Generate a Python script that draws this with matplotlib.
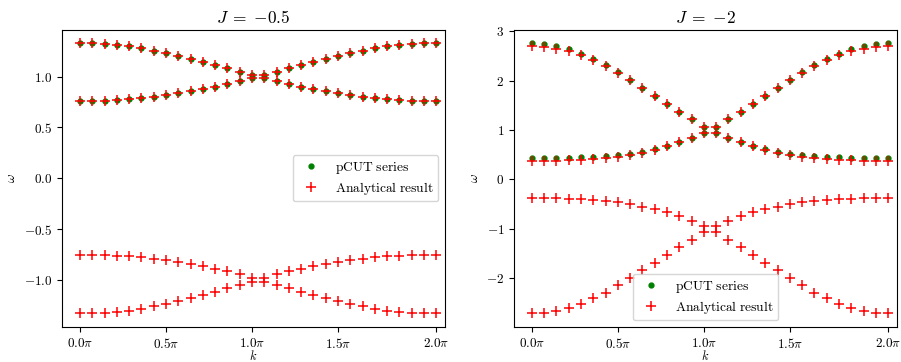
import numpy as np
import matplotlib
matplotlib.use('Agg')
import matplotlib.pyplot as plt
from matplotlib.ticker import FuncFormatter

plt.rcParams['mathtext.fontset'] = 'cm'
plt.rcParams['font.family'] = 'serif'
plt.rcParams['font.size'] = 9.5

# momentum grid, 30 points from 0 to 2 pi
k = np.linspace(0, 2 * np.pi, 30)
k_tick_idx = [0, 7, 14, 21, 29]
k_tick_labels = [r'$0.0\pi$', r'$0.5\pi$', r'$1.0\pi$', r'$1.5\pi$', r'$2.0\pi$']

# J = -0.5
pcut_a_up = [1.330, 1.330, 1.324, 1.314, 1.301, 1.281, 1.255, 1.232, 1.206, 1.176,
             1.144, 1.114, 1.082, 1.049, 1.016, 1.016, 1.049, 1.082, 1.114, 1.144,
             1.176, 1.206, 1.232, 1.255, 1.281, 1.301, 1.314, 1.324, 1.330, 1.330]
pcut_a_lo = [0.758, 0.758, 0.761, 0.765, 0.775, 0.788, 0.801, 0.817, 0.837, 0.856,
             0.876, 0.902, 0.928, 0.958, 0.984, 0.984, 0.958, 0.928, 0.902, 0.876,
             0.856, 0.837, 0.817, 0.801, 0.788, 0.775, 0.765, 0.761, 0.758, 0.758]
ana_a_up = pcut_a_up
ana_a_lo = pcut_a_lo
ana_a_nup = [-0.755, -0.755, -0.758, -0.761, -0.768, -0.778, -0.790, -0.806, -0.824, -0.845,
             -0.866, -0.890, -0.914, -0.945, -0.984, -0.984, -0.945, -0.914, -0.890, -0.866,
             -0.845, -0.824, -0.806, -0.790, -0.778, -0.768, -0.761, -0.758, -0.755, -0.755]
ana_a_nlo = [-1.330, -1.330, -1.324, -1.314, -1.301, -1.282, -1.258, -1.232, -1.206, -1.176,
             -1.145, -1.114, -1.082, -1.049, -1.016, -1.016, -1.049, -1.082, -1.114, -1.145,
             -1.176, -1.206, -1.232, -1.258, -1.282, -1.301, -1.314, -1.324, -1.330, -1.330]

# J = -2
pcut_b_up = [2.764, 2.744, 2.711, 2.637, 2.543, 2.435, 2.321, 2.173, 2.018, 1.857,
             1.689, 1.527, 1.366, 1.218, 1.070, 1.070, 1.218, 1.366, 1.527, 1.689,
             1.857, 2.018, 2.173, 2.321, 2.435, 2.543, 2.637, 2.711, 2.744, 2.764]
pcut_b_lo = [0.444, 0.444, 0.444, 0.444, 0.451, 0.458, 0.471, 0.492, 0.518, 0.558,
             0.612, 0.680, 0.760, 0.841, 0.949, 0.949, 0.841, 0.760, 0.680, 0.612,
             0.558, 0.518, 0.492, 0.471, 0.458, 0.451, 0.444, 0.444, 0.444, 0.444]
ana_b_up = [2.704, 2.690, 2.650, 2.603, 2.522, 2.421, 2.307, 2.159, 2.011, 1.850,
            1.682, 1.520, 1.366, 1.218, 1.070, 1.070, 1.218, 1.366, 1.520, 1.682,
            1.850, 2.011, 2.159, 2.307, 2.421, 2.522, 2.603, 2.650, 2.690, 2.704]
ana_b_lo = [0.371, 0.371, 0.377, 0.384, 0.397, 0.410, 0.437, 0.464, 0.505, 0.545,
            0.605, 0.672, 0.753, 0.841, 0.949, 0.949, 0.841, 0.753, 0.672, 0.605,
            0.545, 0.505, 0.464, 0.437, 0.410, 0.397, 0.384, 0.377, 0.371, 0.371]
ana_b_nup = [-0.376, -0.376, -0.383, -0.389, -0.396, -0.416, -0.436, -0.463, -0.504, -0.551,
             -0.598, -0.665, -0.746, -0.833, -0.935, -0.935, -0.833, -0.746, -0.665, -0.598,
             -0.551, -0.504, -0.463, -0.436, -0.416, -0.396, -0.389, -0.383, -0.376, -0.376]
ana_b_nlo = [-2.716, -2.709, -2.669, -2.595, -2.521, -2.407, -2.293, -2.145, -1.990, -1.829,
             -1.687, -1.533, -1.364, -1.223, -1.062, -1.062, -1.223, -1.364, -1.533, -1.687,
             -1.829, -1.990, -2.145, -2.293, -2.407, -2.521, -2.595, -2.669, -2.709, -2.716]

panels = [
    (r'$J \;=\; {-0.5}$', [pcut_a_up, pcut_a_lo], [ana_a_up, ana_a_lo, ana_a_nup, ana_a_nlo],
     'center right', '{:.1f}'),
    (r'$J \;=\; {-2}$', [pcut_b_up, pcut_b_lo], [ana_b_up, ana_b_lo, ana_b_nup, ana_b_nlo],
     'lower center', '{:.0f}'),
]

fig, axs = plt.subplots(1, 2, figsize=(9.01, 3.62), dpi=100)
fig.subplots_adjust(left=0.069, right=0.9956, bottom=0.0967, top=0.9185, wspace=0.18)

for ax, (title, pcut, ana, loc, fmt) in zip(axs, panels):
    for i, band in enumerate(pcut):
        ax.plot(k, band, 'o', color='green', markersize=3.5,
                label='$\\mathrm{pCUT\\ series}$' if i == 0 else None)
    for i, band in enumerate(ana):
        ax.plot(k, band, '+', color='red', markersize=7, markeredgewidth=1.1,
                label='$\\mathrm{Analytical\\ result}$' if i == 0 else None)
    ax.set_title(title, fontsize=12.5, pad=5)
    ax.set_xticks(k[k_tick_idx])
    ax.set_xticklabels(k_tick_labels)
    ax.yaxis.set_major_formatter(FuncFormatter(lambda v, p, f=fmt: '$' + f.format(v) + '$'))
    ax.tick_params(labelsize=9.5)
    ax.set_xlabel(r'$k$', fontsize=9, labelpad=-1.5)
    ax.set_ylabel(r'$\omega$', fontsize=9.5)
    ax.legend(loc=loc, fontsize=9.7, numpoints=1, labelspacing=0.3, borderpad=0.35)

axs[0].set_xlim(-0.05 * 2 * np.pi, 2.05 * np.pi)
axs[1].set_xlim(-0.05 * 2 * np.pi, 2.05 * np.pi)

fig.savefig('out.png', dpi=100)
